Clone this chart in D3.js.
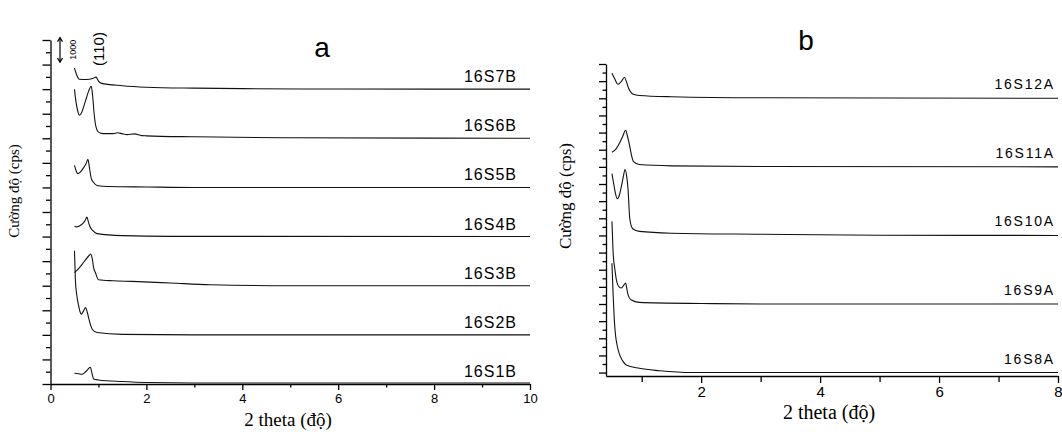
<!DOCTYPE html>
<html>
<head>
<meta charset="utf-8">
<script src="https://cdn.jsdelivr.net/npm/d3@7"></script>
<style>
  body { margin: 0; background: #fff; }
  svg { display: block; }
  .sans { font-family: "Liberation Sans", Arial, sans-serif; }
  .serif { font-family: "Liberation Serif", "Times New Roman", serif; }
</style>
</head>
<body>
<div id="chart"></div>
<script>
// panel a: sample names, vertical offsets (cps), curves as [2theta, cps above own baseline]
const labelsA = ["16S1B", "16S2B", "16S3B", "16S4B", "16S5B", "16S6B", "16S7B"];
const offsetsA = [0, 2000, 4000, 6000, 8000, 10000, 12000];
const s1B = [[0.5,435],[0.58,420],[0.66,395],[0.75,530],[0.83,680],[0.87,400],[0.9,205],[1.0,165],[1.5,100],[2,60],[3,40],[10,40]];
const s2B = [[0.5,3420],[0.51,2800],[0.52,2200],[0.55,1590],[0.58,1250],[0.61,980],[0.64,840],[0.68,940],[0.73,1110],[0.77,900],[0.8,650],[0.87,230],[0.97,95],[1.5,20],[3,0],[10,0]];
const s3B = [[0.5,530],[0.6,730],[0.7,975],[0.8,1220],[0.84,1290],[0.87,1100],[0.9,730],[0.94,515],[1.0,245],[1.3,200],[1.7,175],[2.5,110],[3.33,40],[5,0],[10,0]];
const s4B = [[0.5,420],[0.55,395],[0.6,430],[0.66,505],[0.72,650],[0.76,790],[0.79,600],[0.82,420],[0.88,250],[0.97,120],[1.5,40],[2.5,10],[10,0]];
const s5B = [[0.5,895],[0.54,650],[0.57,560],[0.62,620],[0.68,775],[0.74,960],[0.78,1140],[0.82,700],[0.85,365],[0.9,200],[0.97,80],[1.2,40],[2,20],[3,0],[10,0]];
const s6B = [[0.5,1995],[0.53,1500],[0.57,1100],[0.6,935],[0.65,1050],[0.7,1340],[0.75,1650],[0.8,1950],[0.85,2115],[0.88,1700],[0.91,1000],[0.95,450],[1.0,250],[1.1,190],[1.3,190],[1.4,225],[1.5,180],[1.6,150],[1.75,180],[1.9,110],[2,100],[3,60],[5,20],[10,0]];
const s7B = [[0.5,855],[0.55,560],[0.6,400],[0.75,390],[0.88,430],[0.95,490],[1.0,330],[1.05,245],[1.5,140],[2,80],[3,40],[4,20],[6,5],[10,0]];
const seriesA = [s1B, s2B, s3B, s4B, s5B, s6B, s7B];

// panel b
const labelsB = ["16S8A", "16S9A", "16S10A", "16S11A", "16S12A"];
const offsetsB = [0, 4000, 8000, 12000, 16000];
const s8A = [[0.5,6380],[0.52,4530],[0.54,3070],[0.56,2190],[0.58,1710],[0.63,1030],[0.68,680],[0.74,445],[0.96,250],[1.3,110],[1.85,5],[8,0]];
const s9A = [[0.5,4820],[0.51,3900],[0.52,2990],[0.55,2000],[0.58,1320],[0.62,1000],[0.66,935],[0.7,1100],[0.73,1225],[0.75,900],[0.77,545],[0.82,250],[0.96,95],[2,30],[3,0],[8,0]];
const s10A = [[0.5,3600],[0.53,3000],[0.55,2610],[0.59,2140],[0.62,2300],[0.65,2720],[0.69,3400],[0.72,3850],[0.75,3400],[0.77,2720],[0.8,975],[0.85,390],[0.96,235],[1.5,130],[3,70],[5,10],[8,0]];
const s11A = [[0.5,850],[0.57,1050],[0.63,1400],[0.68,1770],[0.73,2135],[0.76,1800],[0.8,1200],[0.83,650],[0.86,325],[0.96,135],[1.5,60],[3,20],[8,0]];
const s12A = [[0.5,1460],[0.55,1110],[0.6,815],[0.66,990],[0.71,1225],[0.74,1000],[0.78,585],[0.86,235],[0.96,160],[1.5,90],[3,30],[8,0]];
const seriesB = [s8A, s9A, s10A, s11A, s12A];

const xTicksA = [0, 2, 4, 6, 8, 10];
const xTicksB = [2, 4, 6, 8];
const yLabel = "Cường độ (cps)";
const xLabel = "2 theta (độ)";

const svg = d3.select("#chart").append("svg")
    .attr("width", 1062)
    .attr("height", 432);

function drawPanel(opt) {
    const x = d3.scaleLinear().domain(opt.xDomain).range(opt.xRange);
    const y = d3.scaleLinear().domain(opt.yDomain).range(opt.yRange);
    const g = svg.append("g");

    // y axis: major every 1000, minor every 500
    const yMajor = d3.range(0, opt.yDomain[1] + 1, 1000);
    const yMinor = d3.range(500, opt.yDomain[1], 1000);
    g.append("g")
        .attr("transform", `translate(${opt.xRange[0]},0)`)
        .call(d3.axisLeft(y).tickValues(yMinor).tickSize(opt.minorLen).tickFormat("").tickSizeOuter(0))
        .call(a => a.select(".domain").remove());
    g.append("g")
        .attr("transform", `translate(${opt.xRange[0]},0)`)
        .call(d3.axisLeft(y).tickValues(yMajor).tickSize(opt.majorLen).tickFormat("").tickSizeOuter(0));

    // x axis
    const xMinor = d3.range(Math.ceil(opt.xDomain[0]), opt.xDomain[1] + 0.01, 1).filter(v => v % 2 === 1);
    const xa = g.append("g")
        .attr("transform", `translate(0,${opt.yRange[0]})`);
    xa.append("g")
        .call(d3.axisBottom(x).tickValues(xMinor).tickSize(opt.xMinorLen).tickFormat("").tickSizeOuter(0))
        .call(a => a.select(".domain").remove());
    xa.append("g")
        .call(d3.axisBottom(x).tickValues(opt.xTicks).tickSize(opt.xMajorLen).tickSizeOuter(0).tickPadding(opt.tickPad))
        .attr("font-size", opt.tickFont)
        .attr("font-family", "Liberation Sans, Arial, sans-serif")
        .call(a => a.selectAll("text").attr("fill", "#000"));

    g.selectAll(".domain, .tick line")
        .attr("stroke", "#000")
        .attr("stroke-width", 1.3);

    // curves
    const line = d3.line()
        .x(d => x(d[0]))
        .y(d => y(d[1] + d[2]))
        .curve(d3.curveMonotoneX);
    opt.series.forEach((s, i) => {
        const pts = s.map(p => [p[0], p[1], opt.offsets[i]]);
        g.append("path")
            .attr("d", line(pts))
            .attr("fill", "none")
            .attr("stroke", "#111")
            .attr("stroke-width", 1.1);
        g.append("text")
            .attr("class", "sans")
            .attr("x", x(opt.xDomain[1]) + opt.labelDx)
            .attr("y", y(opt.offsets[i]) + opt.labelDy)
            .attr("text-anchor", "end")
            .style("font-size", opt.labelFont + "px")
            .style("letter-spacing", opt.labelSpacing + "px")
            .text(opt.labels[i]);
    });

    // axis titles
    g.append("text")
        .attr("class", "serif")
        .attr("transform", `translate(${opt.yLabelX},${opt.yLabelY}) rotate(-90)`)
        .attr("text-anchor", "middle")
        .style("font-size", opt.yLabelFont + "px")
        .text(yLabel);
    g.append("text")
        .attr("class", "serif")
        .attr("x", opt.xLabelX)
        .attr("y", opt.xLabelY)
        .attr("text-anchor", "middle")
        .style("font-size", opt.xLabelFont + "px")
        .text(xLabel);
    g.append("text")
        .attr("class", "sans")
        .attr("x", opt.titleX)
        .attr("y", opt.titleY)
        .attr("text-anchor", "middle")
        .style("font-size", "28px")
        .text(opt.title);
    return { x, y, g };
}

const pa = drawPanel({
    xDomain: [0, 10], xRange: [50.5, 530],
    yDomain: [0, 14000], yRange: [384, 40],
    majorLen: 8, minorLen: 4.5, xMajorLen: 6, xMinorLen: 3.5, tickPad: 4, tickFont: 13,
    xTicks: xTicksA, series: seriesA, offsets: offsetsA, labels: labelsA,
    labelDx: -13, labelDy: -7, labelFont: 16, labelSpacing: 1,
    yLabelX: 19, yLabelY: 191, yLabelFont: 15,
    xLabelX: 288, xLabelY: 426, xLabelFont: 19,
    title: "a", titleX: 322, titleY: 57
});

drawPanel({
    xDomain: [0.4, 8], xRange: [606, 1058],
    yDomain: [-200, 18000], yRange: [376, 64],
    majorLen: 7, minorLen: 3.5, xMajorLen: 7, xMinorLen: 6, tickPad: 3, tickFont: 15,
    xTicks: xTicksB, series: seriesB, offsets: offsetsB, labels: labelsB,
    labelDx: -3, labelDy: -9, labelFont: 14, labelSpacing: 1.8,
    yLabelX: 571, yLabelY: 196, yLabelFont: 17,
    xLabelX: 829, xLabelY: 419, xLabelFont: 20,
    title: "b", titleX: 806, titleY: 50
});

// scale bar (1000 cps) and reflection index in panel a
const barX = 60;
const barTop = pa.y(13000) - 27;
const barBot = barTop + (pa.y(0) - pa.y(1000));
const ann = pa.g.append("g");
ann.append("line")
    .attr("x1", barX).attr("x2", barX)
    .attr("y1", barTop).attr("y2", barBot)
    .attr("stroke", "#000").attr("stroke-width", 1.2);
ann.append("path")
    .attr("d", `M${barX - 2.5},${barTop + 4}L${barX},${barTop}L${barX + 2.5},${barTop + 4}M${barX - 2.5},${barBot - 4}L${barX},${barBot}L${barX + 2.5},${barBot - 4}`)
    .attr("fill", "none").attr("stroke", "#000").attr("stroke-width", 1.2);
ann.append("text")
    .attr("class", "sans")
    .attr("transform", `translate(76,${(barTop + barBot) / 2}) rotate(-90)`)
    .attr("text-anchor", "middle")
    .style("font-size", "9px")
    .text("1000");
ann.append("text")
    .attr("class", "sans")
    .attr("transform", `translate(104,49) rotate(-90)`)
    .attr("text-anchor", "middle")
    .style("font-size", "15px")
    .text("(110)");
</script>
</body>
</html>
